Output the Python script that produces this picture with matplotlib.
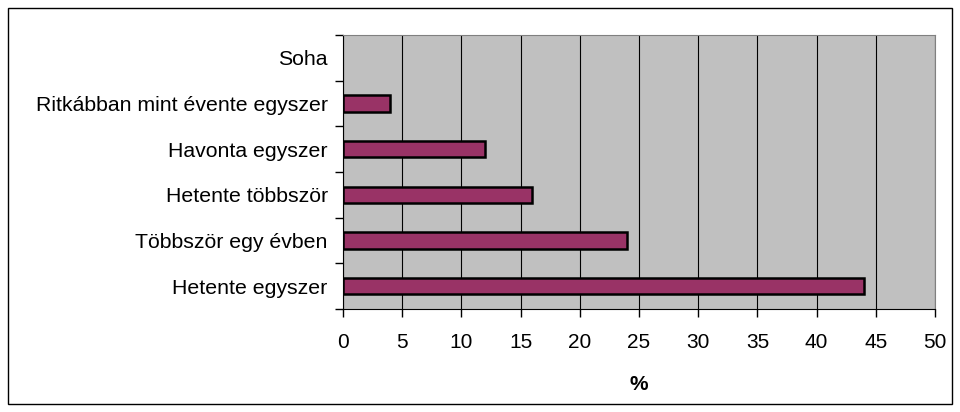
import numpy as np
import matplotlib.pyplot as plt
from matplotlib.patches import Rectangle

plt.rcParams["font.family"] = ["Liberation Sans", "DejaVu Sans"]

# Data (bottom to top)
categories = ["Hetente egyszer", "Többször egy évben", "Hetente többször",
              "Havonta egyszer", "Ritkábban mint évente egyszer", "Soha"]
values = [44, 24, 16, 12, 4, 0]

fig = plt.figure(figsize=(9.6, 4.12), dpi=100)
ax = fig.add_axes([343 / 960, 1 - 309 / 412, (935 - 343) / 960, (309 - 35) / 412])
ax.set_facecolor("#C0C0C0")

y = np.arange(len(categories))
bars = ax.barh(y, values, height=0.36, color="#993366", edgecolor="black", linewidth=1.8, zorder=3)
# no outline for empty bars
for b, v in zip(bars, values):
    if v == 0:
        b.set_visible(False)

ax.set_xlim(0, 50)
ax.set_ylim(-0.5, len(categories) - 0.5)
ax.set_xticks(np.arange(0, 51, 5))
ax.xaxis.grid(True, color="black", linewidth=0.8, zorder=1)
ax.set_axisbelow(True)

# category labels centred, tick marks on boundaries
ax.set_yticks(np.arange(-0.5, len(categories), 1))
ax.set_yticklabels([])
ax.set_yticks(y, minor=True)
ax.set_yticklabels(categories, minor=True, fontsize=15.3)
ax.tick_params(axis="y", which="minor", length=0, pad=11)
ax.tick_params(axis="y", which="major", length=6, width=1, direction="out")
ax.tick_params(axis="x", length=6, width=1, direction="out", labelsize=15, pad=11)

for side in ["top", "right"]:
    ax.spines[side].set_color("#808080")
ax.spines["left"].set_color("black")
ax.spines["bottom"].set_color("black")

ax.set_xlabel("%", fontsize=15, fontweight="bold", labelpad=17)

fig.patches.append(Rectangle((8 / 960, 8 / 412), 944 / 960, 396 / 412, transform=fig.transFigure,
                             fill=False, edgecolor="black", linewidth=1))

fig.savefig("out.png", dpi=100)
